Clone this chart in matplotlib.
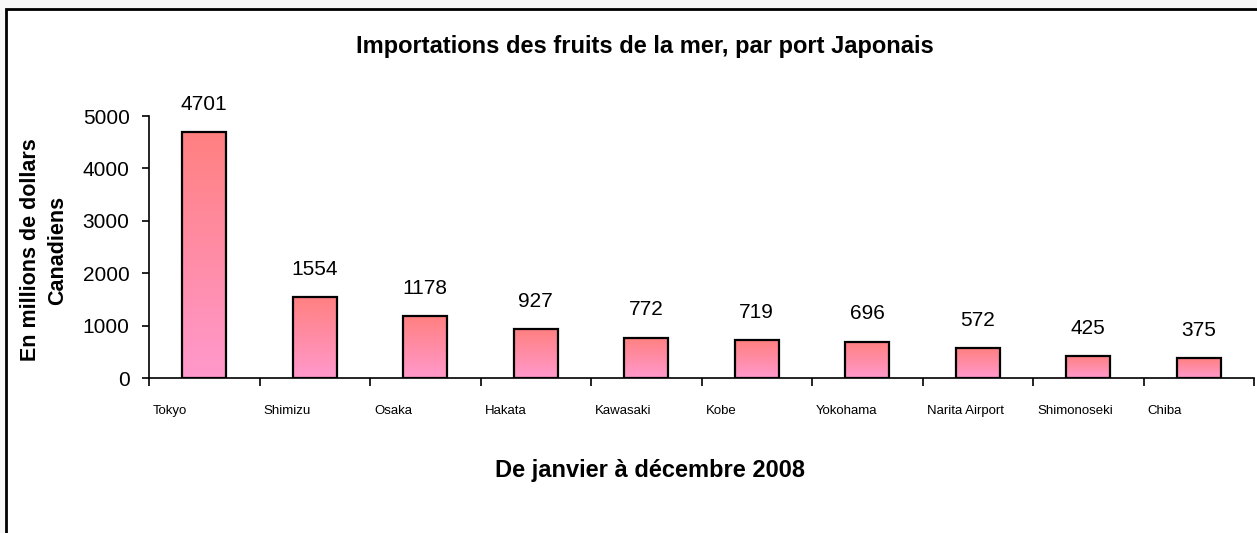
import matplotlib
matplotlib.use("Agg")
import matplotlib.pyplot as plt
import numpy as np
from matplotlib.colors import LinearSegmentedColormap
from matplotlib.patches import Rectangle

ports = ["Tokyo", "Shimizu", "Osaka", "Hakata", "Kawasaki", "Kobe",
         "Yokohama", "Narita Airport", "Shimonoseki", "Chiba"]
values = [4701, 1554, 1178, 927, 772, 719, 696, 572, 425, 375]
yticks = [0, 1000, 2000, 3000, 4000, 5000]

TOP = "#FF8080"
BOTTOM = "#FF99CC"

plt.rcParams["font.family"] = ["Liberation Sans", "DejaVu Sans"]

fig = plt.figure(figsize=(12.57, 5.33), dpi=100, facecolor="#f8f8f8")
# white chart area with black frame
frame = Rectangle((5.5 / 1257, -0.1), 1.2, 1 - 9.5 / 533 + 0.1,
                  transform=fig.transFigure, facecolor="white",
                  edgecolor="black", lw=2, zorder=-10)
fig.patches.append(frame)

ax = fig.add_axes([149 / 1257, 1 - 378 / 533, 1105 / 1257, 262 / 533])
ax.set_facecolor("none")
ax.set_zorder(1)
x = np.arange(len(ports))
bars = ax.bar(x, values, width=0.4, facecolor="none", edgecolor="black", lw=1.6, zorder=3)

cmap = LinearSegmentedColormap.from_list("grad", [BOTTOM, TOP])
grad = np.linspace(0, 1, 256).reshape(-1, 1)
for b in bars:
    im = ax.imshow(grad, cmap=cmap, aspect="auto", origin="lower",
                   extent=[b.get_x(), b.get_x() + b.get_width(), 0, b.get_height()], zorder=2)
    im.set_clip_path(b)

for xi, v in zip(x, values):
    ax.annotate(str(v), (xi, v), textcoords="offset points", xytext=(0, 13),
                ha="center", va="bottom", fontsize=15)

ax.set_xlim(-0.5, len(ports) - 0.5)
ax.set_ylim(0, 5000)
ax.set_yticks(yticks)
ax.tick_params(axis="y", labelsize=15, length=5, width=1.2, pad=9)
ax.set_xticks(np.arange(len(ports) + 1) - 0.5)
ax.set_xticklabels([])
ax.tick_params(axis="x", length=6, width=1.2)
for xi, p in zip(x, ports):
    ax.annotate(p, (xi - 0.5, 0), xycoords="data", textcoords="offset points",
                xytext=(3, -24), ha="left", va="center", fontsize=9.5)
for s in ["top", "right"]:
    ax.spines[s].set_visible(False)
ax.spines["left"].set_linewidth(1.2)
ax.spines["bottom"].set_linewidth(1.2)

fig.text(0.513, 1 - 47 / 533, "Importations des fruits de la mer, par port Japonais",
         ha="center", va="center", fontsize=17, fontweight="bold")
fig.text(0.517, 1 - 470 / 533, "De janvier à décembre 2008",
         ha="center", va="center", fontsize=17, fontweight="bold")
fig.text(44 / 1257, 1 - 250 / 533, "En millions de dollars\nCanadiens", rotation=90,
         ha="center", va="center", multialignment="center", fontsize=15.5,
         fontweight="bold", linespacing=1.35)

fig.savefig("out.png", dpi=100, facecolor=fig.get_facecolor())
